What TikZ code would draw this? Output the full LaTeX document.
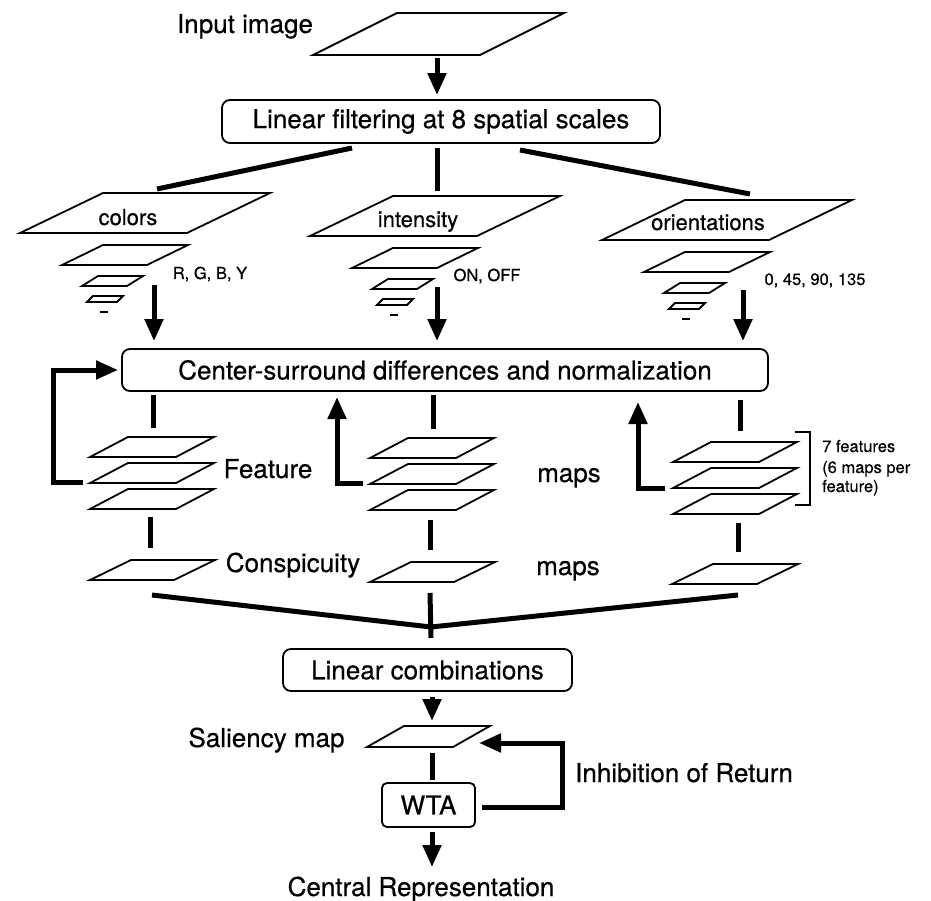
\documentclass[tikz,border=0pt]{standalone}
\usepackage{fontspec}
\setmainfont{TeX Gyre Heros}[FakeBold=0.5]
\usetikzlibrary{arrows.meta}
\newcommand{\pln}[6]{\draw[plane] (#2,#3) coordinate (#1) -- ++(#4,0) -- ++(#5,-#6) -- ++(-#4,0) -- cycle;}
\begin{document}
\begin{tikzpicture}[x=1pt,y=-1pt,
  plane/.style={line width=1.8pt, line join=miter},
  bigtext/.style={font=\fontsize{26}{30}\selectfont, inner sep=0pt, anchor=base},
  midtext/.style={font=\fontsize{22}{26}\selectfont, inner sep=0pt, anchor=base},
  smalltext/.style={font=\fontsize{16.5}{20}\selectfont, inner sep=0pt, anchor=base},
  procbox/.style={draw, line width=1.8pt, rounded corners=8pt, inner sep=0pt, font=\fontsize{26}{30}\selectfont},
  bar/.style={line width=5pt},
  arr/.style={line width=5pt, line join=miter, -{Triangle[length=22pt,width=18pt]}},
]
\useasboundingbox (0,0) rectangle (931,901);

% ---------- input ----------
\pln{inp}{313}{55}{167}{84}{42}
\node[bigtext] (inplbl) at (245,33) {Input image};

% ---------- linear filtering ----------
\node[procbox, minimum width=438pt, minimum height=43pt] (lf) at (441,121.5) {Linear filtering at 8 spatial scales};
\coordinate (a1) at (437,58);
\draw[arr, shorten >=4pt] (a1) -- (a1 |- lf.north);

% ---------- feature pyramids ----------
\pln{colA}{20}{233}{167}{83}{40}
\pln{colB}{62}{265}{85}{41}{20}
\pln{colC}{82}{286}{45}{16}{10}
\pln{colD}{87}{302}{30}{6}{6}
\draw[line width=2pt] (100,312) coordinate (colE) -- (108,312);
\node[midtext] (colors) at (128,225) {colors};
\node[smalltext] (rgby) at (210,279) {R, G, B, Y};

\begin{scope}[shift={(290,3)}]
\pln{intA}{20}{233}{167}{83}{40}
\pln{intB}{62}{265}{85}{41}{20}
\pln{intC}{82}{286}{45}{16}{10}
\pln{intD}{87}{302}{30}{6}{6}
\draw[line width=2pt] (100,312) coordinate (intE) -- (108,312);
\end{scope}
\node[midtext] (intensity) at (418,227) {intensity};
\node[smalltext] (onoff) at (487,281) {ON, OFF};

\begin{scope}[shift={(582,7)}]
\pln{oriA}{20}{233}{167}{83}{40}
\pln{oriB}{62}{265}{85}{41}{20}
\pln{oriC}{82}{286}{45}{16}{10}
\pln{oriD}{87}{302}{30}{6}{6}
\draw[line width=2pt] (100,312) coordinate (oriE) -- (108,312);
\end{scope}
\node[midtext] (orientations) at (708,230) {orientations};
\node[smalltext] (angles) at (815,285) {0, 45, 90, 135};

% branches from linear filtering
\coordinate (b1s) at (352,148); \coordinate (b1e) at (157,189);
\coordinate (b2s) at (437,148); \coordinate (b2e) at (437,191);
\coordinate (b3s) at (520,150); \coordinate (b3e) at (750,194);
\draw[bar] (b1s) -- (b1e);
\draw[bar] (b2s) -- (b2e);
\draw[bar] (b3s) -- (b3e);

% ---------- center-surround ----------
\node[procbox, minimum width=646pt, minimum height=42pt] (cs) at (445,370) {Center-surround differences and normalization};
\coordinate (c1) at (154,285); \coordinate (c2) at (437,287); \coordinate (c3) at (743,290);
\draw[arr, shorten >=7pt] (c1) -- (c1 |- cs.north);
\draw[arr, shorten >=7pt] (c2) -- (c2 |- cs.north);
\draw[arr, shorten >=7pt] (c3) -- (c3 |- cs.north);

\coordinate (d1s) at (153,395); \coordinate (d1e) at (153,428);
\coordinate (d2s) at (433,395); \coordinate (d2e) at (433,429);
\coordinate (d3s) at (740,400); \coordinate (d3e) at (740,431);
\draw[bar] (d1s) -- (d1e);
\draw[bar] (d2s) -- (d2e);
\draw[bar] (d3s) -- (d3e);

% ---------- feature maps ----------
\pln{fc1}{90}{457}{86}{38}{20}
\pln{fc2}{90}{483}{86}{38}{20}
\pln{fc3}{90}{509}{86}{38}{20}
\pln{fi1}{370}{458}{86}{38}{20}
\pln{fi2}{370}{484}{86}{38}{20}
\pln{fi3}{370}{510}{86}{38}{20}
\pln{fo1}{673}{462}{86}{38}{20}
\pln{fo2}{673}{488}{86}{38}{20}
\pln{fo3}{673}{514}{86}{38}{20}
\node[bigtext] (feature) at (268,478) {Feature};
\node[bigtext] (maps1) at (569,482) {maps};

\draw[line width=2pt] (795,432) -- (810,432) -- (810,505) -- (795,505);
\node[smalltext, anchor=base west] (nf1) at (822,452) {7 features};
\node[smalltext, anchor=base west] (nf2) at (822,473) {(6 maps per};
\node[smalltext, anchor=base west] (nf3) at (822,492) {feature)};

% feedback arrows
\coordinate (fb1) at (83,482); \coordinate (fb1e) at (118,370);
\draw[arr] (fb1) -- (53,482) -- (53,370) -- (fb1e);
\coordinate (fb2) at (363,483); \coordinate (fb2e) at (337,397);
\draw[arr] (fb2) -- (337,483) -- (fb2e);
\coordinate (fb3) at (665,488); \coordinate (fb3e) at (638,402);
\draw[arr] (fb3) -- (638,488) -- (fb3e);

% ---------- conspicuity maps ----------
\coordinate (e1s) at (150,517); \coordinate (e1e) at (150,548);
\coordinate (e2s) at (430,520); \coordinate (e2e) at (430,550);
\coordinate (e3s) at (738,523); \coordinate (e3e) at (738,552);
\draw[bar] (e1s) -- (e1e);
\draw[bar] (e2s) -- (e2e);
\draw[bar] (e3s) -- (e3e);
\pln{cc}{90}{580}{84}{41}{20}
\pln{ci}{370}{582}{84}{41}{20}
\pln{co}{672}{584}{85}{41}{20}
\node[bigtext] (consp) at (293,572) {Conspicuity};
\node[bigtext] (maps2) at (568,575) {maps};

% merge
\coordinate (m1) at (152,595); \coordinate (m2) at (430,593); \coordinate (m3) at (738,595);
\coordinate (mj) at (431,627); \coordinate (mb) at (431,638);
\draw[bar, line join=miter] (m1) -- (mj) -- (m3);
\draw[bar] (m2) -- (mb);

% ---------- linear combinations ----------
\node[procbox, minimum width=289pt, minimum height=42pt] (lc) at (427.5,670) {Linear combinations};
\coordinate (s0) at (432,697);
\draw[arr] (s0) -- (432,721);
\pln{sal}{367}{747}{86}{37}{21}
\node[bigtext] (sallbl) at (266.5,747) {Saliency map};

\coordinate (w0) at (432,753); \coordinate (w1) at (432,780);
\draw[bar] (w0) -- (w1);
\node[procbox, rounded corners=5pt, minimum width=93pt, minimum height=44pt] (wta) at (428.5,805) {WTA};

\coordinate (cr0) at (432,832);
\draw[arr] (cr0) -- (432,867);
\node[bigtext] (central) at (421,896) {Central Representation};

% inhibition of return
\coordinate (ior0) at (482,807); \coordinate (ior1) at (479,743);
\draw[arr] (ior0) -- (562,807) -- (562,743) -- (ior1);
\node[bigtext, anchor=base west] (ior) at (575,782) {Inhibition of Return};
\end{tikzpicture}
\end{document}
